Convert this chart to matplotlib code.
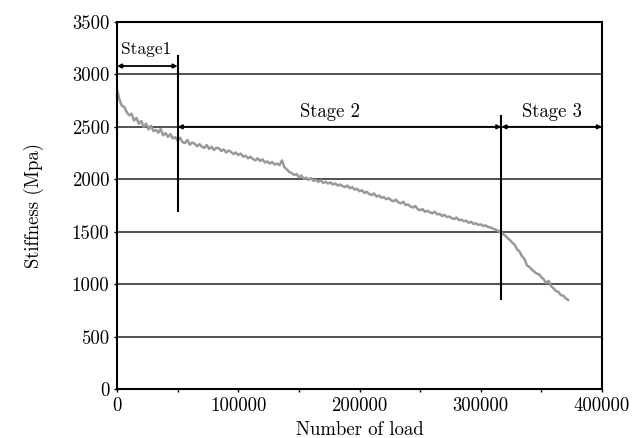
import numpy as np
import matplotlib
matplotlib.use('Agg')
import matplotlib.pyplot as plt

plt.rcParams['font.family'] = ['cmr10', 'DejaVu Serif']
plt.rcParams['axes.formatter.use_mathtext'] = True

# number of load cycles (sampled every 2000)
load = np.arange(0, 374000, 2000)
stiffness = [
    # 0 - 48k
    2850, 2760, 2700, 2690, 2640, 2610, 2625, 2560, 2585, 2530,
    2555, 2500, 2530, 2475, 2510, 2460, 2470, 2445, 2480, 2420,
    2440, 2405, 2430, 2390, 2400,
    # 50k - 98k
    2370, 2395, 2355, 2345, 2375, 2330, 2350, 2340, 2315, 2335,
    2310, 2300, 2325, 2290, 2310, 2280, 2300, 2295, 2270, 2285,
    2255, 2275, 2260, 2240, 2255,
    # 100k - 148k
    2230, 2245, 2215, 2225, 2200, 2215, 2195, 2180, 2200, 2175,
    2190, 2160, 2170, 2150, 2165, 2140, 2150, 2135, 2180, 2115,
    2095, 2070, 2060, 2040, 2050,
    # 150k - 198k
    2020, 2035, 2005, 2015, 1995, 2010, 1985, 1995, 1975, 1990,
    1965, 1975, 1960, 1970, 1950, 1960, 1940, 1950, 1935, 1925,
    1940, 1915, 1925, 1900, 1910,
    # 200k - 248k
    1885, 1895, 1870, 1880, 1860, 1850, 1865, 1835, 1845, 1825,
    1830, 1810, 1820, 1800, 1790, 1805, 1780, 1770, 1785, 1755,
    1760, 1740, 1730, 1745, 1715,
    # 250k - 298k
    1705, 1715, 1690, 1700, 1685, 1675, 1690, 1665, 1670, 1650,
    1660, 1640, 1645, 1630, 1620, 1635, 1610, 1615, 1600, 1605,
    1585, 1595, 1575, 1580, 1565,
    # 300k - 348k
    1570, 1555, 1560, 1545, 1540, 1530, 1520, 1510, 1495, 1480,
    1465, 1440, 1420, 1395, 1375, 1330, 1310, 1265, 1240, 1180,
    1165, 1140, 1120, 1100, 1095,
    # 350k - 372k
    1065, 1045, 1010, 1030, 980, 960, 935, 925, 895, 890,
    865, 850,
]

stage_bounds = [0, 50000, 317000, 400000]
stage_labels = ['Stage1', 'Stage 2', 'Stage 3']
yticks = [0, 500, 1000, 1500, 2000, 2500, 3000, 3500]
xticks = [0, 100000, 200000, 300000, 400000]

fig = plt.figure(figsize=(6.35, 4.38), dpi=100)
ax = fig.add_axes([0.1843, 0.1119, 0.7638, 0.8379])

for g in yticks[1:-1]:
    ax.axhline(g, color='#333333', lw=1.2, zorder=1)

ax.plot(load, stiffness, color='#999999', lw=1.8, zorder=2)

# stage boundaries
ax.plot([stage_bounds[1]] * 2, [1700, 3180], color='black', lw=1.5, zorder=3)
ax.plot([stage_bounds[2]] * 2, [860, 2600], color='black', lw=1.5, zorder=3)

arrow = dict(arrowstyle='<|-|>', color='black', lw=1.3, mutation_scale=6,
             shrinkA=0, shrinkB=0)
ax.annotate('', xy=(stage_bounds[0], 3080), xytext=(stage_bounds[1], 3080),
            arrowprops=arrow, zorder=3)
ax.annotate('', xy=(stage_bounds[1], 2500), xytext=(stage_bounds[2], 2500),
            arrowprops=arrow, zorder=3)
ax.annotate('', xy=(stage_bounds[2], 2500), xytext=(stage_bounds[3], 2500),
            arrowprops=arrow, zorder=3)

ax.text(24000, 3235, stage_labels[0], ha='center', va='center', fontsize=12.5)
ax.text(176000, 2640, stage_labels[1], ha='center', va='center', fontsize=13.5)
ax.text(359000, 2640, stage_labels[2], ha='center', va='center', fontsize=13.5)

ax.set_xlim(0, 400000)
ax.set_ylim(0, 3500)
ax.set_xticks(xticks)
ax.set_xticks([50000, 150000, 250000, 350000], minor=True)
ax.set_yticks(yticks)
ax.set_xticklabels([str(v) for v in xticks])
ax.set_yticklabels([str(v) for v in yticks])
ax.tick_params(axis='both', direction='out', length=2, width=1, labelsize=13.5)
ax.tick_params(axis='x', which='minor', direction='out', length=2, width=1)
for s in ax.spines.values():
    s.set_linewidth(1.5)

ax.set_xlabel('Number of load', fontsize=13.5, labelpad=5)
ax.set_ylabel('Stiffness (Mpa)', fontsize=13.5, labelpad=20)

fig.savefig('out.png', dpi=100)
